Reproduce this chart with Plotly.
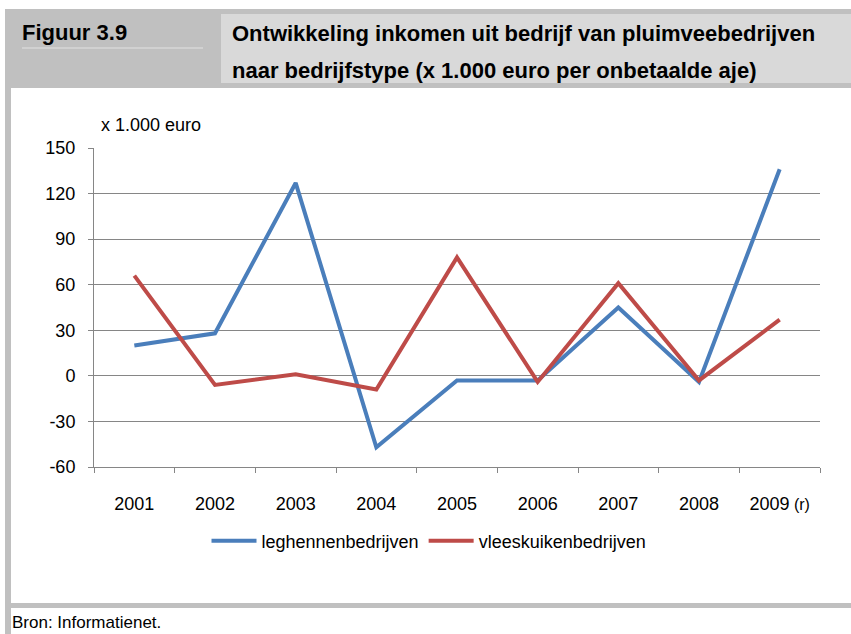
import plotly.graph_objects as go

# data
years = ['2001', '2002', '2003', '2004', '2005', '2006', '2007', '2008', '2009']
year_labels = ['2001', '2002', '2003', '2004', '2005', '2006', '2007', '2008',
               "2009<span style='font-size:16px'> (r)</span>"]
leghennen = [20, 28, 127, -47, -3, -3, 45, -4, 136]
vleeskuiken = [66, -6, 1, -9, 78, -4, 61, -3, 37]
y_ticks = [-60, -30, 0, 30, 60, 90, 120, 150]
y_labels = ['-60', '-30', '0', '30', '60', '90', '120', '150']

W, H = 851, 634
FONT = "Liberation Sans Narrow, Liberation Sans, Arial"


def px(x):
    return x / W


def py(y):
    return 1 - y / H


fig = go.Figure()
fig.add_trace(go.Scatter(x=years, y=leghennen, mode='lines', name='leghennenbedrijven',
                         line=dict(color='#4a7ebb', width=4)))
fig.add_trace(go.Scatter(x=years, y=vleeskuiken, mode='lines', name='vleeskuikenbedrijven',
                         line=dict(color='#be4b48', width=4)))

# kader / achtergrond
shapes = [
    dict(type='rect', x0=px(5), x1=1, y0=py(88), y1=py(9), fillcolor='#c0c0c0', line_width=0, layer='below'),
    dict(type='rect', x0=px(221), x1=1, y0=py(83), y1=py(14), fillcolor='#d9d9d9', line_width=0, layer='below'),
    dict(type='line', x0=px(22), x1=px(203), y0=py(48), y1=py(48), line=dict(color='#e2e2e2', width=1)),
    dict(type='rect', x0=px(5), x1=px(11), y0=0, y1=py(88), fillcolor='#c0c0c0', line_width=0, layer='below'),
    dict(type='rect', x0=px(5), x1=1, y0=py(608), y1=py(603), fillcolor='#c0c0c0', line_width=0, layer='below'),
]
for s in shapes:
    s['xref'] = 'paper'
    s['yref'] = 'paper'

annotations = [
    dict(text='<b>Figuur 3.9</b>', x=px(20), y=py(32), xanchor='left', yanchor='middle',
         font=dict(size=22, color='#000000')),
    dict(text='<b>Ontwikkeling inkomen uit bedrijf van pluimveebedrijven</b>', x=px(230), y=py(33),
         xanchor='left', yanchor='middle', font=dict(size=22, color='#000000')),
    dict(text='<b>naar bedrijfstype (x 1.000 euro per onbetaalde aje)</b>', x=px(230), y=py(71),
         xanchor='left', yanchor='middle', font=dict(size=22, color='#000000')),
    dict(text='x 1.000 euro', x=px(99), y=py(125), xanchor='left', yanchor='middle',
         font=dict(size=18, color='#000000')),
    dict(text='Bron: Informatienet.', x=px(10), y=py(622), xanchor='left', yanchor='middle',
         font=dict(size=17, color='#000000')),
]
for a in annotations:
    a['xref'] = 'paper'
    a['yref'] = 'paper'
    a['showarrow'] = False

fig.update_layout(
    width=W, height=H,
    margin=dict(l=0, r=0, t=0, b=0, autoexpand=False),
    paper_bgcolor='white', plot_bgcolor='white',
    font=dict(family=FONT, size=18, color='#000000'),
    shapes=shapes,
    annotations=annotations,
    legend=dict(orientation='h', x=px(429), xanchor='center', y=py(541), yanchor='middle',
                font=dict(size=18), itemwidth=45),
    xaxis=dict(domain=[px(94), px(820)], range=[-0.5, 8.5], tickvals=years, ticktext=year_labels,
               automargin=False, showgrid=False, showline=True, linecolor='#868686', linewidth=1,
               ticks='outside', ticklen=5, tickcolor='#868686', tickson='boundaries',
               ticklabelstandoff=20),
    yaxis=dict(domain=[py(467), py(148)], range=[-60, 150], tickvals=y_ticks, ticktext=y_labels,
               automargin=False, showgrid=True, gridcolor='#868686', gridwidth=1,
               showline=True, linecolor='#868686', linewidth=1,
               ticks='outside', ticklen=5, tickcolor='#868686', zeroline=False,
               ticklabelstandoff=9),
)

# body-marge van de pagina weghalen zodat de figuur in de hoek begint
fig.write_html("out.html", config={'displayModeBar': False},
               post_script="document.body.style.margin='0px';")
